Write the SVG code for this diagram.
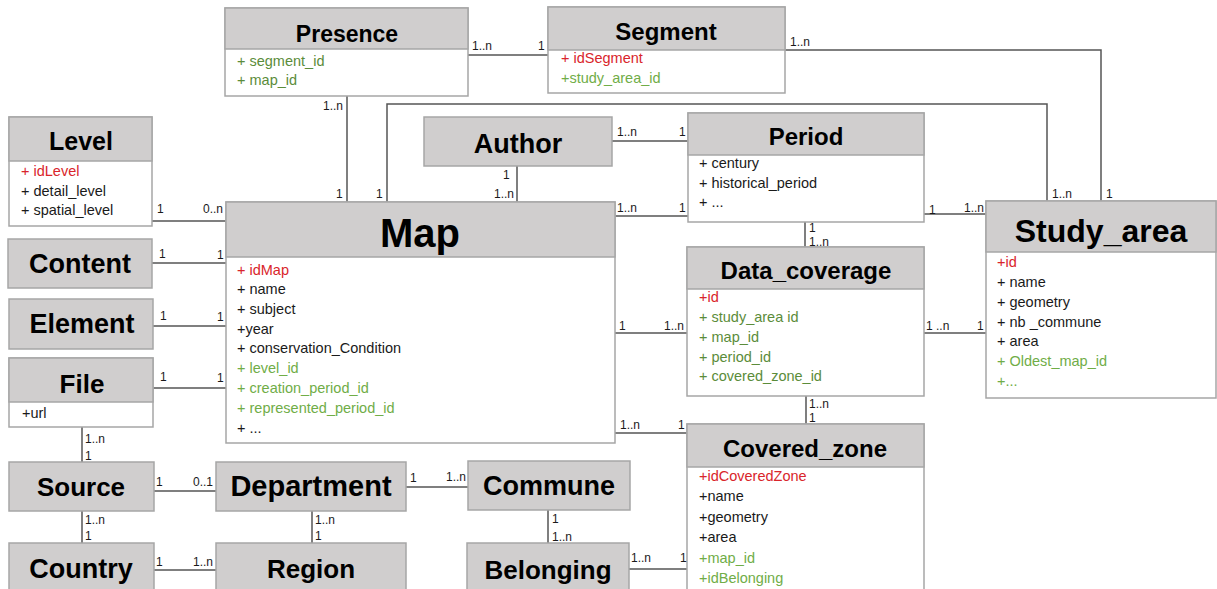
<svg xmlns="http://www.w3.org/2000/svg" width="1217" height="589" viewBox="0 0 1217 589">
<style>
.box{fill:#fff;stroke:#a6a6a6;stroke-width:1.5}
.hd{fill:#d0cece;stroke:#a6a6a6;stroke-width:1.5}
.t{font-family:"Liberation Sans",Arial,sans-serif;font-weight:bold;fill:#000;text-anchor:middle}
.a{font-family:"Liberation Sans",Arial,sans-serif;font-size:14.5px;fill:#1a1a1a}
.r{fill:#d9252b}
.g{fill:#5b8c3a}
.lg{fill:#70ad47}
.c{fill:none;stroke:#555;stroke-width:1.5}
.l{font-family:"Liberation Sans",Arial,sans-serif;font-size:12px;fill:#1a1a1a}
</style>
<rect width="1217" height="589" fill="#fff"/>
<g id="connectors">
<line class="c" x1="468" y1="55" x2="548" y2="55"/>
<polyline class="c" points="785,50 1101,50 1101,201"/>
<line class="c" x1="347" y1="96" x2="347" y2="202"/>
<polyline class="c" points="387,202 387,104 1047,104 1047,201"/>
<line class="c" x1="517" y1="166" x2="517" y2="202"/>
<line class="c" x1="612" y1="141" x2="688" y2="141"/>
<line class="c" x1="615" y1="216" x2="688" y2="216"/>
<line class="c" x1="924" y1="214" x2="986" y2="214"/>
<line class="c" x1="805" y1="222" x2="805" y2="247"/>
<line class="c" x1="152" y1="221" x2="226" y2="221"/>
<line class="c" x1="152" y1="263" x2="226" y2="263"/>
<line class="c" x1="153" y1="326" x2="226" y2="326"/>
<line class="c" x1="153" y1="388" x2="226" y2="388"/>
<line class="c" x1="82" y1="427" x2="82" y2="462"/>
<line class="c" x1="154" y1="491" x2="216" y2="491"/>
<line class="c" x1="82" y1="511" x2="82" y2="543"/>
<line class="c" x1="154" y1="570" x2="216" y2="570"/>
<line class="c" x1="312" y1="511" x2="312" y2="543"/>
<line class="c" x1="406" y1="487" x2="468" y2="487"/>
<line class="c" x1="548" y1="510" x2="548" y2="543"/>
<line class="c" x1="629" y1="569" x2="687" y2="569"/>
<line class="c" x1="615" y1="433" x2="687" y2="433"/>
<line class="c" x1="615" y1="333" x2="687" y2="333"/>
<line class="c" x1="924" y1="333" x2="986" y2="333"/>
<line class="c" x1="806" y1="396" x2="806" y2="424"/>
</g>
<g id="Presence">
<rect class="box" x="225" y="8" width="243" height="88"/>
<rect class="hd" x="225" y="8" width="243" height="41"/>
<text class="t" x="347" y="42" font-size="23">Presence</text>
<text class="a g" x="237" y="66">+ segment_id</text>
<text class="a g" x="237" y="85">+ map_id</text>
</g>
<g id="Segment">
<rect class="box" x="548" y="7" width="237" height="86"/>
<rect class="hd" x="548" y="7" width="237" height="43"/>
<text class="t" x="666" y="40" font-size="24">Segment</text>
<text class="a r" x="561" y="63">+ idSegment</text>
<text class="a lg" x="561" y="83">+study_area_id</text>
</g>
<g id="Level">
<rect class="box" x="9" y="117" width="143" height="109"/>
<rect class="hd" x="9" y="117" width="143" height="44"/>
<text class="t" x="81" y="150" font-size="25">Level</text>
<text class="a r" x="21" y="176">+ idLevel</text>
<text class="a" x="21" y="196">+ detail_level</text>
<text class="a" x="21" y="215">+ spatial_level</text>
</g>
<g id="Content">
<rect class="hd" x="8" y="239" width="144" height="49"/>
<text class="t" x="80" y="273" font-size="27">Content</text>
</g>
<g id="Element">
<rect class="hd" x="9" y="299" width="144" height="50"/>
<text class="t" x="82" y="333" font-size="27">Element</text>
</g>
<g id="File">
<rect class="box" x="9" y="358" width="144" height="69"/>
<rect class="hd" x="9" y="358" width="144" height="44"/>
<text class="t" x="82" y="393" font-size="26">File</text>
<text class="a" x="22" y="418">+url</text>
</g>
<g id="Map">
<rect class="box" x="226" y="202" width="389" height="241"/>
<rect class="hd" x="226" y="202" width="389" height="55"/>
<text class="t" x="420" y="247" font-size="40">Map</text>
<text class="a r" x="237" y="275">+ idMap</text>
<text class="a" x="237" y="294">+ name</text>
<text class="a" x="237" y="314">+ subject</text>
<text class="a" x="237" y="334">+year</text>
<text class="a" x="237" y="353">+ conservation_Condition</text>
<text class="a lg" x="237" y="373">+ level_id</text>
<text class="a lg" x="237" y="393">+ creation_period_id</text>
<text class="a lg" x="237" y="413">+ represented_period_id</text>
<text class="a" x="237" y="433">+ ...</text>
</g>
<g id="Author">
<rect class="hd" x="424" y="117" width="188" height="49"/>
<text class="t" x="518" y="153" font-size="27">Author</text>
</g>
<g id="Period">
<rect class="box" x="688" y="113" width="236" height="109"/>
<rect class="hd" x="688" y="113" width="236" height="42"/>
<text class="t" x="806" y="145" font-size="24">Period</text>
<text class="a" x="699" y="168">+ century</text>
<text class="a" x="699" y="188">+ historical_period</text>
<text class="a" x="699" y="207">+ ...</text>
</g>
<g id="Data_coverage">
<rect class="box" x="687" y="247" width="237" height="149"/>
<rect class="hd" x="687" y="247" width="237" height="42"/>
<text class="t" x="806" y="279" font-size="24">Data_coverage</text>
<text class="a r" x="699" y="302">+id</text>
<text class="a g" x="699" y="322">+ study_area id</text>
<text class="a g" x="699" y="342">+ map_id</text>
<text class="a g" x="699" y="362">+ period_id</text>
<text class="a g" x="699" y="381">+ covered_zone_id</text>
</g>
<g id="Study_area">
<rect class="box" x="986" y="201" width="230" height="197"/>
<rect class="hd" x="986" y="201" width="230" height="51"/>
<text class="t" x="1101" y="242" font-size="32">Study_area</text>
<text class="a r" x="997" y="267">+id</text>
<text class="a" x="997" y="287">+ name</text>
<text class="a" x="997" y="307">+ geometry</text>
<text class="a" x="997" y="327">+ nb _commune</text>
<text class="a" x="997" y="346">+ area</text>
<text class="a lg" x="997" y="366">+ Oldest_map_id</text>
<text class="a lg" x="997" y="386">+...</text>
</g>
<g id="Covered_zone">
<rect class="box" x="687" y="424" width="237" height="180"/>
<rect class="hd" x="687" y="424" width="237" height="43"/>
<text class="t" x="805" y="457" font-size="24">Covered_zone</text>
<text class="a r" x="699" y="481">+idCoveredZone</text>
<text class="a" x="699" y="501">+name</text>
<text class="a" x="699" y="522">+geometry</text>
<text class="a" x="699" y="542">+area</text>
<text class="a lg" x="699" y="563">+map_id</text>
<text class="a lg" x="699" y="583">+idBelonging</text>
</g>
<g id="Source">
<rect class="hd" x="9" y="462" width="145" height="49"/>
<text class="t" x="81" y="496" font-size="26">Source</text>
</g>
<g id="Department">
<rect class="hd" x="216" y="462" width="190" height="49"/>
<text class="t" x="311" y="496" font-size="29">Department</text>
</g>
<g id="Commune">
<rect class="hd" x="468" y="461" width="162" height="49"/>
<text class="t" x="549" y="495" font-size="27">Commune</text>
</g>
<g id="Country">
<rect class="hd" x="9" y="543" width="145" height="60"/>
<text class="t" x="81" y="578" font-size="27">Country</text>
</g>
<g id="Region">
<rect class="hd" x="216" y="543" width="190" height="60"/>
<text class="t" x="311" y="578" font-size="26">Region</text>
</g>
<g id="Belonging">
<rect class="hd" x="467" y="543" width="162" height="60"/>
<text class="t" x="548" y="579" font-size="26">Belonging</text>
</g>
<g id="labels">
<text class="l" x="472" y="50">1..n</text>
<text class="l" x="538" y="50">1</text>
<text class="l" x="790" y="46">1..n</text>
<text class="l" x="1106" y="198">1</text>
<text class="l" x="323" y="110">1..n</text>
<text class="l" x="336" y="198">1</text>
<text class="l" x="376" y="198">1</text>
<text class="l" x="1052" y="198">1..n</text>
<text class="l" x="503" y="179">1</text>
<text class="l" x="494" y="198">1..n</text>
<text class="l" x="617" y="136">1..n</text>
<text class="l" x="679" y="136">1</text>
<text class="l" x="617" y="212">1..n</text>
<text class="l" x="679" y="212">1</text>
<text class="l" x="929" y="214">1</text>
<text class="l" x="964" y="212">1..n</text>
<text class="l" x="809" y="232">1</text>
<text class="l" x="809" y="246">1..n</text>
<text class="l" x="157" y="213">1</text>
<text class="l" x="203" y="213">0..n</text>
<text class="l" x="159" y="258">1</text>
<text class="l" x="217" y="259">1</text>
<text class="l" x="160" y="320">1</text>
<text class="l" x="217" y="321">1</text>
<text class="l" x="160" y="381">1</text>
<text class="l" x="217" y="382">1</text>
<text class="l" x="85" y="443">1..n</text>
<text class="l" x="85" y="460">1</text>
<text class="l" x="156" y="486">1</text>
<text class="l" x="193" y="486">0..1</text>
<text class="l" x="85" y="524">1..n</text>
<text class="l" x="85" y="540">1</text>
<text class="l" x="156" y="566">1</text>
<text class="l" x="193" y="566">1..n</text>
<text class="l" x="315" y="524">1..n</text>
<text class="l" x="315" y="540">1</text>
<text class="l" x="410" y="482">1</text>
<text class="l" x="446" y="481">1..n</text>
<text class="l" x="552" y="523">1</text>
<text class="l" x="552" y="541">1..n</text>
<text class="l" x="631" y="562">1..n</text>
<text class="l" x="680" y="562">1</text>
<text class="l" x="620" y="429">1..n</text>
<text class="l" x="678" y="429">1</text>
<text class="l" x="619" y="330">1</text>
<text class="l" x="664" y="330">1..n</text>
<text class="l" x="926" y="330">1 ..n</text>
<text class="l" x="977" y="330">1</text>
<text class="l" x="809" y="408">1..n</text>
<text class="l" x="809" y="422">1</text>
</g>
</svg>
